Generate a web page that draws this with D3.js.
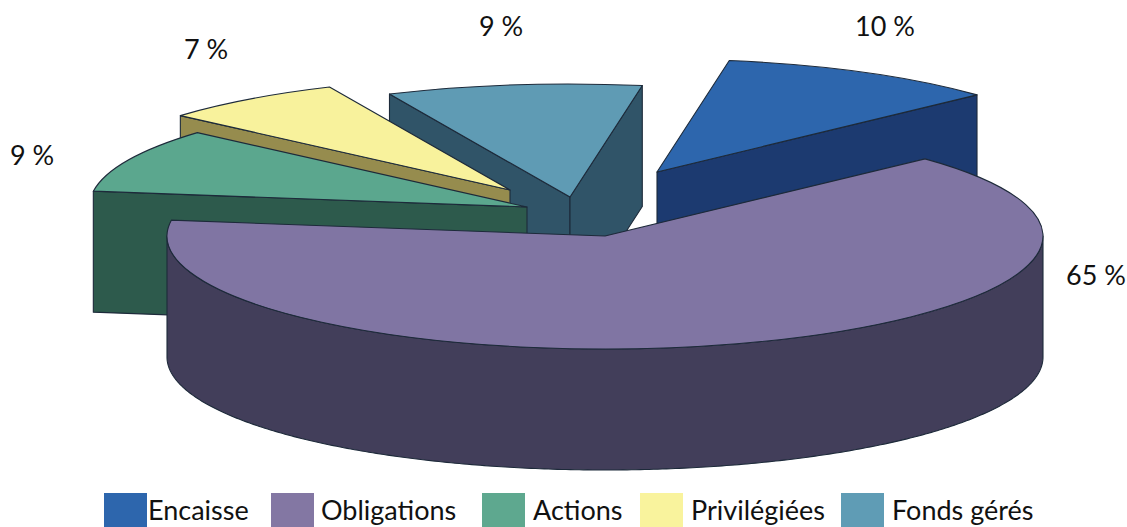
<!DOCTYPE html>
<html>
<head>
<meta charset="utf-8">
<script src="https://cdn.jsdelivr.net/npm/d3@7"></script>
<style>
  html, body { margin: 0; padding: 0; background: #fff; overflow: hidden; }
  text { font-family: Lato, "Open Sans", sans-serif; fill: #111; }
</style>
</head>
<body>
<div id="chart"></div>
<script>
// Data
const categories = ["Encaisse", "Obligations", "Actions", "Privilégiées", "Fonds gérés"];
// Percentages as printed on the chart
const printedShares = [10, 65, 9, 7, 9];
// Slice sizes as actually drawn, measured from the wedges (they differ a little from the printed ones)
const drawnShares = [10.4, 64.2, 9.2, 6.8, 9.4];

// Colours
const topColors = ["#2d66ad", "#8075a3", "#5ba78e", "#f8f29c", "#5f9bb4"];
const sideColors = ["#1c3a70", "#423e5a", "#2d5a4c", "#968c4e", "#305468"];
const legendColors = ["#2d66ad", "#8377a3", "#5ea88f", "#f9f39d", "#5f9cb5"];

// Layout of the 3D pie
const width = 1127;
const height = 527;
const cx = 605;
const cy = 236;
const rx = 438;
const ry = 113;
const depth = 121;
const firstAngle = 9.5 * Math.PI / 180;

// How far each slice is pulled out of the centre
const sliceOffsets = [[52, -64], [0, 0], [-78, -29], [-95, -46], [-35, -39]];
// Back to front
const drawOrder = [4, 3, 2, 0, 1];

const labelPos = [[885, 27], [1096, 276], [32, 156], [206, 50], [501, 27]];
const legendSwatchX = [104, 271, 482, 640, 841];
const legendTextX = [148, 321, 533, 691, 892];

const svg = d3.select("#chart")
    .append("svg")
    .attr("width", width)
    .attr("height", height);

const pie = d3.pie()
    .sort(null)
    .startAngle(firstAngle)
    .endAngle(firstAngle + 2 * Math.PI);
const slices = pie(drawnShares);

const arc = d3.arc().innerRadius(0).outerRadius(rx);
const line = d3.line();

// Point on the rim, angle is clockwise from the top
function rim(a, ox, oy, drop) {
    return [cx + ox + rx * Math.sin(a), cy + oy - ry * Math.cos(a) + drop];
}

function radialFace(a, ox, oy) {
    const apex = [cx + ox, cy + oy];
    return line([apex, rim(a, ox, oy, 0), rim(a, ox, oy, depth), [apex[0], apex[1] + depth]]) + "Z";
}

// Outer wall, only the part that faces us
function wallPath(a0, a1, ox, oy) {
    const from = Math.max(a0, Math.PI / 2);
    const to = Math.min(a1, 3 * Math.PI / 2);
    if (from >= to) return null;
    const angles = d3.range(from, to, 0.01).concat([to]);
    const upper = angles.map((a) => rim(a, ox, oy, 0));
    const lower = angles.slice().reverse().map((a) => rim(a, ox, oy, depth));
    return line(upper.concat(lower)) + "Z";
}

drawOrder.forEach((i) => {
    const s = slices[i];
    const [ox, oy] = sliceOffsets[i];
    const g = svg.append("g")
        .attr("stroke", "#1d2a3a")
        .attr("stroke-width", 1.1)
        .attr("stroke-linejoin", "round");

    // Side faces that turn towards the viewer
    if (Math.sin(s.startAngle) < 0) {
        g.append("path").attr("d", radialFace(s.startAngle, ox, oy)).attr("fill", sideColors[i]);
    }
    if (Math.sin(s.endAngle) > 0) {
        g.append("path").attr("d", radialFace(s.endAngle, ox, oy)).attr("fill", sideColors[i]);
    }

    const wall = wallPath(s.startAngle, s.endAngle, ox, oy);
    if (wall) {
        g.append("path").attr("d", wall).attr("fill", sideColors[i]);
    }

    // Top surface: a circular arc squashed into an ellipse
    g.append("path")
        .attr("d", arc(s))
        .attr("transform", `translate(${cx + ox},${cy + oy}) scale(1,${ry / rx})`)
        .attr("vector-effect", "non-scaling-stroke")
        .attr("fill", topColors[i]);
});

// Percentage labels
svg.selectAll(".pct")
    .data(printedShares)
    .enter()
    .append("text")
    .attr("class", "pct")
    .attr("x", (d, i) => labelPos[i][0])
    .attr("y", (d, i) => labelPos[i][1])
    .attr("dy", "0.35em")
    .attr("text-anchor", "middle")
    .style("font-size", "27px")
    .text((d) => `${d} %`);

// Legend
const legend = svg.selectAll(".legend")
    .data(categories)
    .enter()
    .append("g")
    .attr("class", "legend");

legend.append("rect")
    .attr("x", (d, i) => legendSwatchX[i])
    .attr("y", 493)
    .attr("width", 43)
    .attr("height", 34)
    .attr("fill", (d, i) => legendColors[i]);

legend.append("text")
    .attr("x", (d, i) => legendTextX[i])
    .attr("y", 520)
    .style("font-size", "27px")
    .text((d) => d);
</script>
</body>
</html>
